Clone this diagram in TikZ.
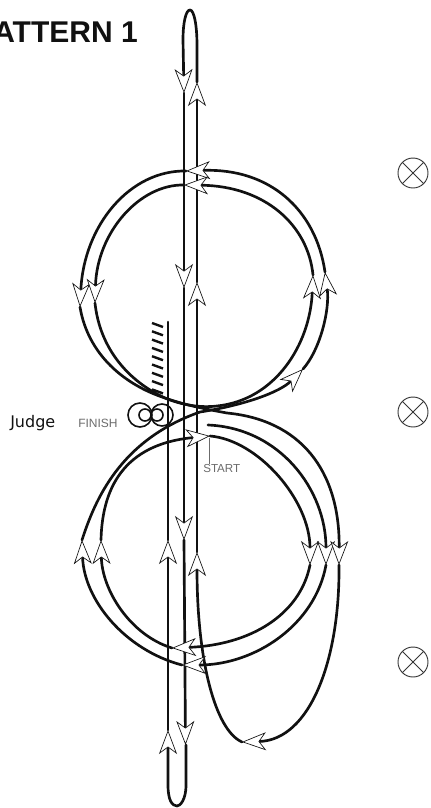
\documentclass[tikz,border=0pt]{standalone}
\usepackage{fontspec}
\setmainfont{Liberation Sans}
\newfontfamily\judgefont{DejaVu Sans}
\usetikzlibrary{arrows.meta}
\definecolor{cInk}{HTML}{111111}
\definecolor{cGrey}{HTML}{6B6B6B}

\begin{document}
\begin{tikzpicture}[
  x=0.75pt, y=-0.75pt,
  trk/.style={line width=2pt, cInk, line cap=round},
  hd/.style={trk, -{Stealth[length=18pt, width=13.5pt, inset=5pt, fill=white, line width=0.5pt]}},
  target/.style={line width=0.7pt, cInk!85},
  lab/.style={inner sep=0pt, text=cGrey},
]
\useasboundingbox (0,0) rectangle (430,808);
\clip (0,0) rectangle (430,808);

% -- labels ----------------------------------------------------------------
\node[anchor=east, inner sep=0pt, text=cInk, font=\fontsize{22.5pt}{24pt}\selectfont\bfseries] (title) at (138,32.5) {ATTERN 1};
\node[anchor=west, inner sep=0pt, text=cInk, font=\fontsize{12pt}{14pt}\judgefont] (judge) at (10,423) {Judge};
\node[lab, anchor=west, font=\fontsize{9pt}{10pt}\selectfont] (finish) at (78,423) {FINISH};
\node[lab, anchor=west, font=\fontsize{8.7pt}{10pt}\selectfont] (start) at (203,468) {START};
\coordinate (tick) at (209,438);
\draw[cGrey, line width=0.5pt] (tick) -- (start.north -| tick);

% -- markers ---------------------------------------------------------------
\foreach \my in {173,412,662} {
  \draw[target] (413,\my) circle (15);
  \draw[target] (402.4,\my-10.6) -- (423.6,\my+10.6);
  \draw[target] (402.4,\my+10.6) -- (423.6,\my-10.6);
}

% -- finish circles and fence ----------------------------------------------
\foreach \cx/\cr in {140/12, 145/6, 157/6, 162/11} {
  \draw[cInk, line width=1.2pt] (\cx,415) circle (\cr);
}
\foreach \hy in {323,331.3,...,390} {
  \draw[cInk, line width=1.8pt] (152,\hy) -- (163,\hy+4);
}

% -- centre lines ----------------------------------------------------------
\draw[trk] (168,540) -- (168,322);
\draw[hd] (168,730) -- (168,540);
\draw[hd] (186,745) -- (186,785) .. controls (186,800) and (180,806) .. (177,806) .. controls (172,806) and (168,800) .. (168,785) -- (168,730);
\draw[hd] (184,540) -- (185.5,745);
\draw[hd] (184,288) -- (184,540);
\draw[hd] (184,93) -- (184,288);
\draw[hd] (197,82) -- (197,45) .. controls (197,25) and (194,10) .. (190,10) .. controls (186,10) and (183,22) .. (183,40) -- (184,93);
\draw[hd] (197,282) -- (197,82);
\draw[hd] (197,552) -- (197,282);
\draw[hd] (242,742) .. controls (215,730) and (197,660) .. (197,552);

% -- lower circle ----------------------------------------------------------
\draw[hd] (208,425) .. controls (280,428) and (326,490) .. (326,565);
\draw[hd] (210,436) .. controls (258,440) and (310,500) .. (310,565);
\draw[hd] (310,565) .. controls (300,615) and (250,645) .. (172,648);
\draw[hd] (326,565) .. controls (315,625) and (255,665) .. (182,665);
\draw[hd] (172,648) .. controls (130,635) and (102,590) .. (101,540);
\draw[hd] (182,665) .. controls (125,650) and (84,600) .. (82,540);
\draw[hd] (339,565) .. controls (340,660) and (310,740) .. (242,742);
\draw[hd] (101,540) .. controls (102,500) and (115,445) .. (210,436);

% -- crossing arcs ---------------------------------------------------------
\draw[hd] (80,307) .. controls (88,355) and (125,385) .. (165,398) .. controls (185,405) and (205,409) .. (227,413) .. controls (300,420) and (340,470) .. (339,565);
\draw[hd] (95,303) .. controls (100,350) and (130,382) .. (165,398) .. controls (182,405) and (200,408) .. (217,406) .. controls (275,400) and (310,345) .. (313,275);
\draw[hd] (82,540) .. controls (95,500) and (120,440) .. (200,412) .. controls (245,405) and (280,392) .. (303,369);
\draw[hd] (303,369) .. controls (320,350) and (330,310) .. (325,272);

% -- upper circle ----------------------------------------------------------
\draw[hd] (325,272) .. controls (316,210) and (270,168) .. (186,171);
\draw[hd] (313,275) .. controls (308,225) and (265,186) .. (184,185);
\draw[hd] (186,171) .. controls (130,170) and (84,225) .. (80,307);
\draw[hd] (184,185) .. controls (140,184) and (97,232) .. (95,303);
\end{tikzpicture}
\end{document}
